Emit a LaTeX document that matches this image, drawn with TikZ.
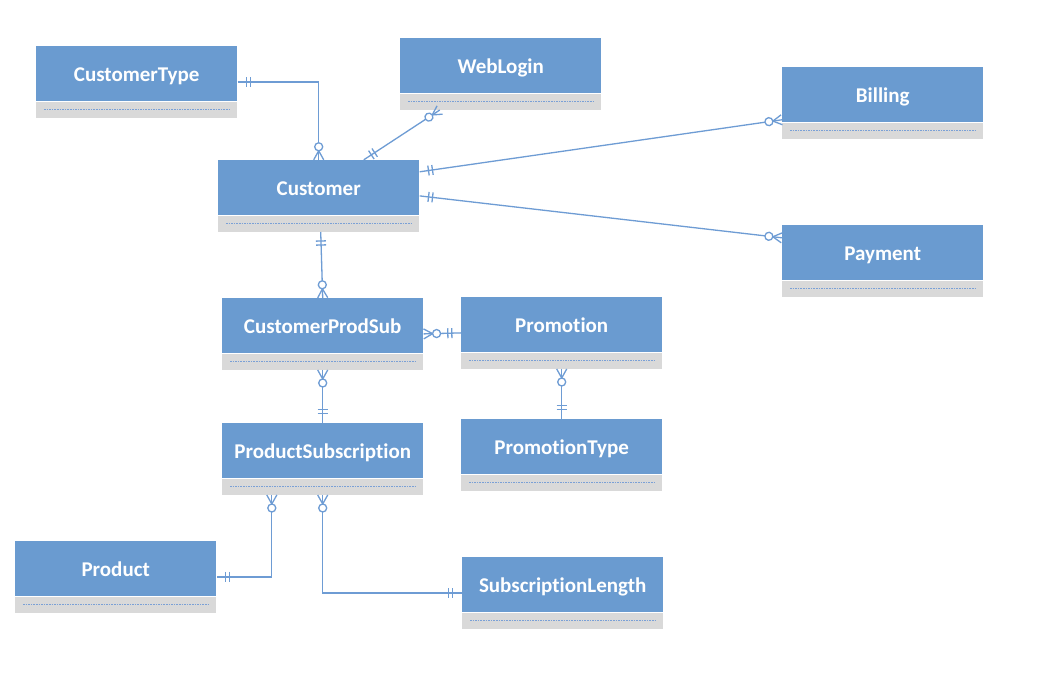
\documentclass[tikz,border=0pt]{standalone}
\usepackage{fontspec}
\setmainfont{Carlito}[Ligatures=NoCommon,RawFeature=-liga]
\usetikzlibrary{fit,decorations.markings}
\definecolor{erblue}{RGB}{106,155,208}
\definecolor{ergray}{RGB}{217,217,217}
\definecolor{erline}{RGB}{110,156,212}
\definecolor{erdot}{RGB}{122,160,214}
\tikzset{
  head/.style={minimum width=201pt,minimum height=55pt,inner sep=0pt,fill=erblue,text=white,
    text height=15pt,text depth=0pt,
    font=\fontsize{21}{25}\selectfont\bfseries},
  body/.style={minimum width=201pt,minimum height=16pt,inner sep=0pt,fill=ergray},
  dots/.style={draw=erdot,line width=1pt,dash pattern=on 1.6pt off 1pt},
  whole/.style={inner sep=0pt},
  conn/.style={draw=erline,line width=1.3pt},
  onestart/.style={postaction={decorate,decoration={markings,
     mark=at position 9pt with {\draw[conn] (0pt,-5pt)--(0pt,5pt);},
     mark=at position 13pt with {\draw[conn] (0pt,-5pt)--(0pt,5pt);}}}},
  oneend/.style={postaction={decorate,decoration={markings,
     mark=at position -9pt with {\draw[conn] (0pt,-5pt)--(0pt,5pt);},
     mark=at position -13pt with {\draw[conn] (0pt,-5pt)--(0pt,5pt);}}}},
  manystart/.style={postaction={decorate,decoration={markings,
     mark=at position 0.5pt with {\draw[conn] (-0.5pt,-5pt)--(8.5pt,0pt) (-0.5pt,5pt)--(8.5pt,0pt);
        \draw[conn,fill=white] (12.5pt,0pt) circle (4pt);}}}},
  manyend/.style={postaction={decorate,decoration={markings,
     mark=at position -0.5pt with {\draw[conn] (0.5pt,-5pt)--(-8.5pt,0pt) (0.5pt,5pt)--(-8.5pt,0pt);
        \draw[conn,fill=white] (-12.5pt,0pt) circle (4pt);}}}},
}
\newcommand\erentity[4]{%
  \node[head,anchor=north west] (#1-h) at (#2,#3) {#4};
  \node[body,anchor=north] (#1-b) at (#1-h.south) {};
  \draw[dots] ([xshift=8pt]#1-b.west) -- ([xshift=-8pt]#1-b.east);
  \node[whole,fit=(#1-h)(#1-b)] (#1) {};
}
\begin{document}
\begin{tikzpicture}[x=1pt,y=-1pt]
\useasboundingbox (0,0) rectangle (1042,676);
\fill[white] (0,0) rectangle (1042,676);

\erentity{ctype}{36}{46}{CustomerType}
\erentity{web}{400}{38}{WebLogin}
\erentity{bill}{782}{67}{Billing}
\erentity{cust}{218}{160}{Customer}
\erentity{pay}{782}{225}{Payment}
\erentity{cps}{222}{298}{CustomerProdSub}
\erentity{promo}{461}{297}{Promotion}
\erentity{ptype}{461}{419}{PromotionType}
\erentity{psub}{222}{423}{ProductSubscription}
\erentity{prod}{15}{541}{Product}
\erentity{slen}{462}{557}{SubscriptionLength}

\draw[conn,onestart,manyend] (ctype.east) -| (cust.north);
\draw[conn,manystart,oneend] ([xshift=40pt]web.south west) -- ([xshift=146pt]cust.north west);
\draw[conn,onestart,manyend] ([yshift=-12pt]cust.north east) -- ([yshift=-53pt]bill.north west);
\draw[conn,onestart,manyend] (cust.east) -- ([yshift=-13pt]pay.north west);
\draw[conn,onestart,manyend] ([xshift=2pt]cust.south) -- (cps.north);
\draw[conn,manystart,oneend] (cps.east) -- (promo.west);
\draw[conn,manystart,oneend] (cps.south) -- (psub.north);
\draw[conn,manystart,oneend] (promo.south) -- (ptype.north);
\draw[conn,manystart,oneend] ([xshift=50pt]psub.south west) |- (prod.east);
\draw[conn,manystart,oneend] (psub.south) |- (slen.west);
\end{tikzpicture}
\end{document}
